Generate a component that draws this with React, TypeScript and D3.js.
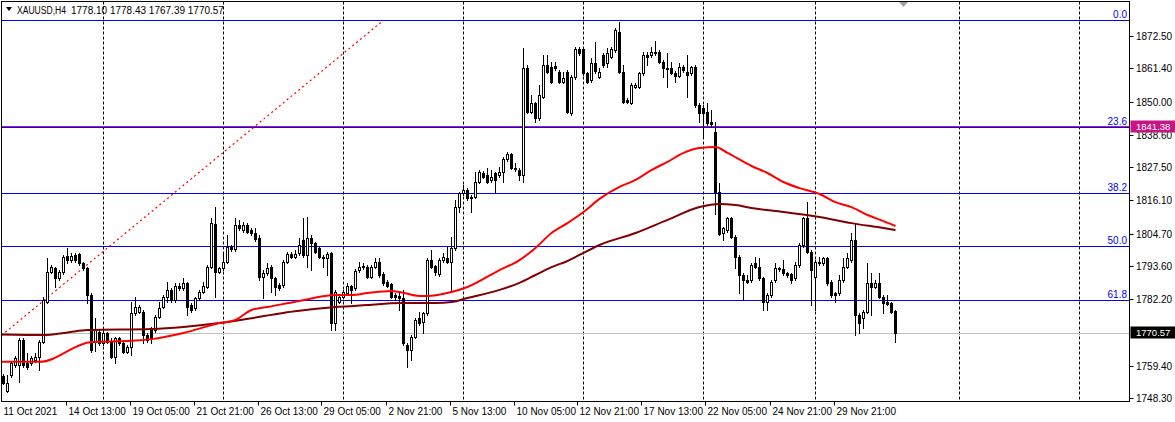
import React, { useEffect, useRef } from 'react'
import * as d3 from 'd3'

const symbolTitle = 'XAUUSD,H4'
const lastQuote = [1778.10, 1778.43, 1767.39, 1770.57]

// H4 bars: [open, high, low, close]
const ohlc: number[][] = [
  [1755.8, 1756.5, 1753.1, 1753.3], [1750.8, 1756.2, 1750.5, 1753.3], [1756.2, 1760.8, 1755.6, 1760.2], [1759.6, 1762.7, 1759.0, 1761.9],
  [1759.6, 1768.8, 1753.9, 1768.2], [1768.2, 1768.8, 1759.0, 1759.6], [1760.2, 1763.6, 1758.4, 1759.0], [1760.2, 1762.7, 1759.6, 1761.9],
  [1761.3, 1763.8, 1760.8, 1762.4], [1762.5, 1768.2, 1757.9, 1767.6], [1767.6, 1783.1, 1767.0, 1781.9], [1781.3, 1796.2, 1780.8, 1791.6],
  [1791.6, 1793.9, 1791.1, 1793.4], [1792.8, 1793.4, 1786.5, 1789.3], [1789.3, 1792.2, 1788.8, 1791.6], [1791.6, 1797.3, 1791.0, 1796.8],
  [1797.0, 1799.9, 1794.5, 1795.6], [1795.6, 1797.9, 1795.1, 1797.0], [1797.3, 1797.9, 1795.1, 1795.6], [1797.7, 1798.1, 1793.9, 1794.5],
  [1794.5, 1795.1, 1792.2, 1792.8], [1792.8, 1793.4, 1780.8, 1783.6], [1783.6, 1784.2, 1764.2, 1764.8], [1767.6, 1775.6, 1764.5, 1771.6],
  [1771.1, 1771.6, 1766.5, 1767.0], [1767.0, 1772.2, 1766.5, 1770.5], [1770.5, 1771.1, 1767.0, 1767.6], [1767.6, 1768.8, 1761.9, 1762.5],
  [1762.5, 1769.3, 1760.2, 1768.8], [1768.8, 1769.3, 1766.5, 1767.0], [1767.0, 1767.6, 1763.6, 1764.2], [1764.2, 1766.5, 1763.6, 1765.9],
  [1765.9, 1781.3, 1763.1, 1777.4], [1777.4, 1783.0, 1776.8, 1779.6], [1777.9, 1780.2, 1777.4, 1779.6], [1777.9, 1778.5, 1767.0, 1769.9],
  [1769.9, 1770.5, 1767.6, 1768.2], [1772.2, 1772.8, 1767.0, 1768.8], [1771.6, 1776.8, 1771.1, 1776.2], [1776.2, 1781.3, 1775.6, 1779.1],
  [1779.6, 1783.6, 1779.1, 1783.0], [1783.0, 1788.2, 1781.3, 1785.3], [1785.3, 1785.9, 1781.3, 1781.9], [1781.9, 1787.7, 1781.3, 1786.8],
  [1786.8, 1787.7, 1785.3, 1786.0], [1786.0, 1789.4, 1785.3, 1787.7], [1787.7, 1788.2, 1776.8, 1779.6], [1780.2, 1780.8, 1777.9, 1778.5],
  [1779.1, 1783.0, 1778.5, 1782.5], [1782.5, 1785.3, 1781.9, 1784.7], [1784.7, 1788.2, 1784.2, 1786.8], [1786.5, 1793.9, 1786.0, 1793.4],
  [1793.4, 1809.9, 1792.8, 1808.2], [1808.0, 1813.9, 1783.0, 1791.6], [1791.6, 1793.4, 1791.1, 1792.8], [1792.8, 1797.9, 1792.2, 1795.1],
  [1795.1, 1804.2, 1794.5, 1800.2], [1800.2, 1800.8, 1798.8, 1799.3], [1799.3, 1809.9, 1798.8, 1807.6], [1807.6, 1809.3, 1805.9, 1806.5],
  [1805.9, 1808.7, 1805.3, 1807.6], [1807.6, 1808.2, 1804.8, 1805.3], [1805.9, 1806.5, 1804.2, 1804.8], [1804.8, 1806.5, 1802.3, 1802.7],
  [1803.1, 1804.2, 1788.8, 1789.9], [1789.9, 1792.2, 1782.5, 1791.1], [1791.1, 1794.5, 1790.5, 1792.8], [1793.4, 1793.9, 1784.7, 1789.4],
  [1789.4, 1789.9, 1783.6, 1786.3], [1787.1, 1787.7, 1785.3, 1786.0], [1787.1, 1795.6, 1786.5, 1795.1], [1795.1, 1798.5, 1794.5, 1797.7],
  [1797.7, 1798.5, 1796.2, 1796.8], [1796.8, 1799.1, 1796.2, 1797.7], [1797.9, 1803.1, 1797.3, 1800.8], [1802.5, 1809.9, 1796.8, 1797.3],
  [1797.3, 1810.5, 1793.4, 1803.1], [1803.1, 1804.2, 1792.2, 1801.4], [1801.4, 1801.9, 1797.9, 1798.5], [1799.6, 1800.2, 1796.2, 1796.8],
  [1796.8, 1797.3, 1793.4, 1796.2], [1796.2, 1798.5, 1790.5, 1797.7], [1797.9, 1798.5, 1771.6, 1773.9], [1773.9, 1785.3, 1771.6, 1784.7],
  [1781.3, 1783.6, 1780.8, 1783.0], [1783.0, 1785.3, 1782.5, 1784.7], [1784.3, 1787.7, 1783.9, 1786.8], [1786.8, 1787.1, 1780.8, 1785.3],
  [1785.9, 1792.4, 1785.3, 1792.0], [1792.2, 1795.1, 1791.6, 1793.4], [1793.6, 1794.5, 1792.4, 1793.1], [1793.4, 1793.9, 1789.4, 1789.9],
  [1789.9, 1793.9, 1789.4, 1793.4], [1793.4, 1796.2, 1792.8, 1795.1], [1795.1, 1796.2, 1789.9, 1790.5], [1790.8, 1791.6, 1787.1, 1787.7],
  [1788.2, 1788.8, 1786.3, 1786.8], [1787.4, 1787.9, 1782.5, 1783.0], [1783.6, 1784.2, 1781.9, 1783.0], [1783.3, 1784.2, 1778.5, 1782.5],
  [1782.5, 1785.3, 1766.5, 1767.0], [1766.5, 1767.0, 1759.0, 1764.8], [1764.8, 1769.9, 1761.3, 1769.1], [1769.1, 1775.6, 1768.8, 1775.1],
  [1775.6, 1777.9, 1773.3, 1773.9], [1774.5, 1777.9, 1770.5, 1777.4], [1777.4, 1796.2, 1776.8, 1795.6], [1795.6, 1799.1, 1792.8, 1793.4],
  [1793.6, 1793.9, 1790.5, 1791.6], [1790.8, 1796.2, 1790.1, 1795.6], [1795.6, 1797.9, 1795.1, 1796.8], [1796.2, 1800.2, 1794.5, 1795.1],
  [1795.1, 1803.7, 1785.3, 1799.6], [1799.6, 1816.2, 1799.1, 1813.9], [1813.9, 1819.1, 1812.2, 1818.5], [1818.5, 1821.4, 1817.9, 1819.7],
  [1819.7, 1820.2, 1816.2, 1816.8], [1817.4, 1817.9, 1812.2, 1816.8], [1817.4, 1826.0, 1816.8, 1822.5], [1822.5, 1826.5, 1822.0, 1826.0],
  [1825.6, 1826.3, 1823.7, 1824.2], [1824.8, 1827.1, 1822.0, 1822.5], [1823.1, 1826.5, 1822.5, 1824.2], [1825.4, 1826.0, 1819.1, 1823.1],
  [1824.8, 1827.7, 1824.2, 1826.0], [1826.0, 1831.1, 1822.5, 1830.2], [1830.2, 1832.8, 1829.7, 1832.0], [1832.0, 1832.5, 1826.8, 1827.1],
  [1827.1, 1828.8, 1826.3, 1826.8], [1826.5, 1827.1, 1823.1, 1824.8], [1824.8, 1868.3, 1822.5, 1861.4], [1861.4, 1862.5, 1846.0, 1846.5],
  [1846.5, 1852.3, 1846.0, 1849.4], [1849.4, 1850.0, 1843.1, 1844.2], [1844.2, 1855.7, 1843.7, 1852.3], [1851.7, 1866.0, 1851.1, 1862.5],
  [1862.5, 1866.0, 1859.7, 1860.3], [1862.0, 1863.7, 1856.3, 1856.8], [1862.2, 1863.7, 1860.8, 1861.4], [1860.3, 1860.8, 1856.3, 1856.8],
  [1856.8, 1860.3, 1856.3, 1858.0], [1860.3, 1860.8, 1846.0, 1846.5], [1846.2, 1859.1, 1845.4, 1858.3], [1858.3, 1868.8, 1857.9, 1867.9],
  [1867.9, 1868.6, 1866.0, 1866.5], [1867.9, 1868.8, 1859.1, 1859.7], [1859.7, 1860.3, 1856.3, 1856.8], [1857.4, 1864.8, 1856.8, 1863.1],
  [1863.1, 1870.6, 1859.9, 1860.6], [1858.5, 1861.4, 1858.0, 1860.3], [1866.0, 1866.5, 1862.0, 1862.5], [1863.1, 1868.3, 1862.0, 1866.5],
  [1865.4, 1868.8, 1864.8, 1867.9], [1867.7, 1875.1, 1867.1, 1874.6], [1874.0, 1877.4, 1859.7, 1860.3], [1860.3, 1862.5, 1849.6, 1850.0],
  [1850.5, 1851.1, 1849.4, 1850.0], [1849.4, 1856.3, 1849.2, 1855.7], [1854.9, 1856.3, 1854.5, 1855.7], [1854.9, 1860.3, 1854.5, 1859.7],
  [1859.7, 1867.1, 1859.1, 1866.0], [1866.0, 1867.1, 1862.5, 1865.4], [1866.0, 1868.8, 1865.4, 1867.1], [1867.1, 1870.9, 1866.0, 1866.5],
  [1867.1, 1867.7, 1863.1, 1863.7], [1863.7, 1864.3, 1858.5, 1861.4], [1861.4, 1866.8, 1855.1, 1861.2], [1861.4, 1863.7, 1859.5, 1859.9],
  [1859.9, 1860.6, 1856.8, 1858.8], [1858.8, 1863.1, 1858.3, 1861.7], [1861.7, 1862.5, 1860.3, 1860.8], [1860.3, 1866.0, 1851.7, 1859.1],
  [1859.7, 1862.2, 1859.1, 1861.7], [1861.7, 1862.5, 1848.3, 1848.8], [1848.8, 1849.4, 1843.1, 1846.2], [1847.7, 1848.8, 1838.0, 1846.0],
  [1846.5, 1849.4, 1842.0, 1842.5], [1843.1, 1847.1, 1841.4, 1842.3], [1839.7, 1843.1, 1811.6, 1819.1], [1819.1, 1822.0, 1804.2, 1804.6],
  [1804.8, 1807.0, 1802.5, 1806.5], [1805.9, 1810.5, 1805.3, 1809.9], [1809.9, 1810.5, 1803.1, 1803.7], [1803.7, 1804.2, 1792.8, 1796.8],
  [1796.8, 1797.3, 1784.2, 1790.5], [1790.5, 1791.1, 1781.9, 1788.8], [1788.8, 1790.5, 1787.7, 1788.2], [1788.8, 1794.5, 1788.2, 1793.9],
  [1794.5, 1796.8, 1792.8, 1793.4], [1793.4, 1796.2, 1788.8, 1789.4], [1789.4, 1789.9, 1778.5, 1781.3], [1781.3, 1784.2, 1778.5, 1783.6],
  [1783.6, 1788.8, 1783.0, 1788.2], [1788.8, 1794.5, 1788.2, 1792.8], [1792.8, 1793.4, 1792.0, 1792.4], [1792.4, 1795.6, 1790.5, 1791.1],
  [1791.1, 1791.6, 1789.9, 1790.5], [1790.7, 1791.3, 1787.7, 1788.8], [1789.4, 1795.1, 1788.8, 1793.9], [1793.9, 1801.4, 1793.4, 1800.8],
  [1800.8, 1810.5, 1800.2, 1809.9], [1809.9, 1815.7, 1797.9, 1798.5], [1798.5, 1799.1, 1780.2, 1792.2], [1789.9, 1795.6, 1778.5, 1795.1],
  [1795.1, 1796.8, 1793.9, 1794.5], [1794.5, 1796.8, 1793.9, 1796.2], [1796.2, 1796.8, 1787.1, 1787.7], [1788.2, 1788.8, 1783.0, 1783.6],
  [1784.2, 1784.7, 1781.3, 1783.6], [1784.2, 1790.5, 1783.6, 1788.8], [1788.8, 1796.2, 1788.2, 1793.4], [1793.4, 1797.9, 1792.8, 1796.2],
  [1795.6, 1804.8, 1795.1, 1802.5], [1802.5, 1808.2, 1769.9, 1776.8], [1776.8, 1777.4, 1770.5, 1773.9], [1775.6, 1778.5, 1772.2, 1777.9],
  [1777.9, 1794.5, 1777.4, 1787.9], [1787.9, 1791.1, 1776.8, 1786.5], [1786.5, 1788.8, 1786.0, 1787.9], [1787.9, 1791.1, 1782.5, 1783.0],
  [1783.0, 1783.6, 1777.4, 1780.8], [1781.3, 1783.6, 1780.2, 1780.5], [1780.8, 1781.3, 1777.4, 1777.9], [1778.10, 1778.43, 1767.39, 1770.57]
]

// time axis labels and the bar they sit on
const dateLabels = ['11 Oct 2021', '14 Oct 13:00', '19 Oct 05:00', '21 Oct 21:00', '26 Oct 13:00', '29 Oct 05:00', '2 Nov 21:00',
  '5 Nov 13:00', '10 Nov 05:00', '12 Nov 21:00', '17 Nov 13:00', '22 Nov 05:00', '24 Nov 21:00', '29 Nov 21:00']
const dateLabelBars = [0, 16, 32, 48, 64, 80, 96, 112, 128, 144, 160, 176, 192, 208]

// vertical grid (week starts, last two in the empty shift area)
const gridBars = [25, 55, 85, 115, 145, 175, 203, 239, 269]

const priceTicks = [1872.5, 1861.4, 1850.0, 1838.6, 1827.5, 1816.1, 1804.7, 1793.6, 1782.2, 1759.4, 1748.3]

// fibonacci retracement
const fibRatios = [0, 23.6, 38.2, 50, 61.8]
const fibHigh = 1877.9
const fibLow = 1722.8
const fibAnchorBars = [-42, 95]

const hLinePrice = 1841.38
const bidPrice = 1770.57

// moving averages read at sample bars
const maFastBars = [-1, 9, 22, 32, 37, 45, 54, 58, 62, 66, 74, 83, 87, 91, 97, 99, 104, 106, 112, 116, 124, 129, 133, 137, 141,
  145, 149, 154, 158, 162, 166, 170, 174, 178, 181, 187, 191, 195, 199, 204, 208, 212, 216, 220, 223]
const maFastValues = [1760.7, 1760.7, 1767.5, 1767.9, 1768.5, 1770.6, 1774.0, 1775.1, 1778.5, 1779.5, 1781.6, 1783.6, 1783.6,
  1784.3, 1785.0, 1784.7, 1783.3, 1783.3, 1784.7, 1786.4, 1792.2, 1795.6, 1799.8, 1804.9, 1808.3, 1812.1, 1816.6, 1820.7, 1823.1,
  1826.5, 1829.3, 1832.4, 1834.1, 1834.4, 1832.4, 1827.9, 1825.5, 1822.4, 1820.3, 1818.3, 1815.5, 1813.8, 1811.1, 1809.0, 1807.3]
const maSlowBars = [-1, 10, 16, 21, 37, 45, 54, 62, 70, 74, 83, 91, 99, 108, 112, 116, 124, 129, 133, 137, 141, 145, 149, 158,
  166, 174, 179, 183, 187, 195, 204, 212, 220, 223]
const maSlowValues = [1770.1, 1769.9, 1770.8, 1771.6, 1772.0, 1772.7, 1774.0, 1775.7, 1777.5, 1778.2, 1779.5, 1780.2, 1780.9,
  1780.9, 1781.2, 1782.6, 1785.4, 1787.8, 1790.5, 1793.2, 1795.3, 1798.1, 1800.8, 1804.9, 1809.4, 1813.8, 1814.9, 1814.5, 1813.5,
  1812.1, 1810.4, 1808.3, 1806.6, 1805.9]

const FONT = '"Liberation Sans", Arial, sans-serif'

export default function App() {
  const svgRef = useRef<SVGSVGElement | null>(null)

  useEffect(() => {
    if (!svgRef.current) return
    const width = 1175
    const height = 422
    const left = 1.5, top = 1.5, right = 1129.5, bottom = 401.5

    const svg = d3.select(svgRef.current)
    svg.selectAll('*').remove()
    svg.attr('width', width).attr('height', height)

    svg.append('rect').attr('width', width).attr('height', height).attr('fill', '#ffffff')

    // bar index -> x, price -> y
    const x = d3.scaleLinear().domain([0, ohlc.length - 1]).range([3.5, 3.5 + 4 * (ohlc.length - 1)])
    const y = d3.scaleLinear().domain([1748.3, 1872.5]).range([398, 36])
    const snap = (v: number) => Math.round(v) + 0.5

    svg.append('clipPath').attr('id', 'plot-clip')
      .append('rect').attr('x', left).attr('y', top).attr('width', right - left).attr('height', bottom - top)
    const plot = svg.append('g').attr('clip-path', 'url(#plot-clip)')

    // vertical dashed grid
    plot.selectAll('line.grid')
      .data(gridBars)
      .enter()
      .append('line')
      .attr('x1', d => x(d)).attr('x2', d => x(d))
      .attr('y1', top).attr('y2', bottom)
      .attr('stroke', '#000').attr('stroke-dasharray', '3,2')

    // fibo levels
    const fibPrice = (r: number) => fibHigh - (r / 100) * (fibHigh - fibLow)
    plot.selectAll('line.fib')
      .data(fibRatios)
      .enter()
      .append('line')
      .attr('x1', left).attr('x2', right)
      .attr('y1', d => snap(y(fibPrice(d)))).attr('y2', d => snap(y(fibPrice(d))))
      .attr('stroke', '#0000ff')

    svg.selectAll('text.fib')
      .data(fibRatios)
      .enter()
      .append('text')
      .attr('x', 1127)
      .attr('y', d => snap(y(fibPrice(d))) - 2.5)
      .attr('text-anchor', 'end')
      .attr('fill', '#0000ff')
      .style('font', `10px ${FONT}`)
      .text(d => d.toFixed(1))

    // fibo trend line (dotted red)
    plot.append('line')
      .attr('x1', x(fibAnchorBars[0])).attr('y1', y(fibLow))
      .attr('x2', x(fibAnchorBars[1])).attr('y2', y(fibHigh))
      .attr('stroke', '#ff0000').attr('stroke-width', 1.2).attr('stroke-dasharray', '2,3')

    // horizontal line and bid line
    plot.append('line')
      .attr('x1', left).attr('x2', right)
      .attr('y1', snap(y(hLinePrice)) - 1).attr('y2', snap(y(hLinePrice)) - 1)
      .attr('stroke', '#c71585')
    plot.append('line')
      .attr('x1', left).attr('x2', right)
      .attr('y1', snap(y(bidPrice))).attr('y2', snap(y(bidPrice)))
      .attr('stroke', '#c0c0c0')

    // candles
    const bars = plot.append('g')
    ohlc.forEach(([o, h, l, c], i) => {
      const cx = x(i)
      bars.append('line')
        .attr('x1', cx).attr('x2', cx)
        .attr('y1', Math.round(y(h))).attr('y2', Math.round(y(l)) + 1)
        .attr('stroke', '#000')
      const t = snap(y(Math.max(o, c)))
      const b = snap(y(Math.min(o, c)))
      bars.append('rect')
        .attr('x', cx - 1).attr('y', t)
        .attr('width', 2).attr('height', Math.max(b - t, 0))
        .attr('fill', c >= o ? '#ffffff' : '#000000')
        .attr('stroke', '#000')
    })

    // moving averages
    const line = d3.line<number>().curve(d3.curveMonotoneX)
    plot.append('path')
      .attr('d', line.x((d, i) => x(maSlowBars[i])).y(d => y(d))(maSlowValues))
      .attr('fill', 'none').attr('stroke', '#800000').attr('stroke-width', 2)
    plot.append('path')
      .attr('d', line.x((d, i) => x(maFastBars[i])).y(d => y(d))(maFastValues))
      .attr('fill', 'none').attr('stroke', '#ff0000').attr('stroke-width', 2)

    // frame
    svg.append('rect')
      .attr('x', left).attr('y', top).attr('width', right - left).attr('height', bottom - top)
      .attr('fill', 'none').attr('stroke', '#000')

    // price axis
    const yAxis = svg.append('g')
    priceTicks.forEach(p => {
      const py = snap(y(p))
      yAxis.append('line').attr('x1', right).attr('x2', right + 4).attr('y1', py).attr('y2', py).attr('stroke', '#000')
      yAxis.append('text').attr('x', 1136).attr('y', py + 3.5)
        .style('font', `10px ${FONT}`).attr('fill', '#000').text(p.toFixed(2))
    })

    const priceTag = (p: number, bg: string) => {
      const py = snap(y(p))
      yAxis.append('rect').attr('x', right + 1).attr('y', py - 7).attr('width', 45).attr('height', 12).attr('fill', bg)
      yAxis.append('text').attr('x', 1136).attr('y', py + 2.5)
        .style('font', `9.5px ${FONT}`).attr('fill', '#fff').text(p.toFixed(2))
    }
    priceTag(hLinePrice, '#c71585')
    priceTag(bidPrice, '#000000')

    // time axis
    const xAxis = svg.append('g')
    dateLabels.forEach((label, k) => {
      const bx = k === 0 ? left : snap(x(dateLabelBars[k]) - 2)
      if (k > 0) xAxis.append('line').attr('x1', bx).attr('x2', bx).attr('y1', bottom).attr('y2', bottom + 4).attr('stroke', '#000')
      xAxis.append('text').attr('x', bx + 2).attr('y', 415)
        .style('font', `10px ${FONT}`).attr('fill', '#000').text(label)
    })

    // header
    svg.append('path').attr('d', 'M6,7 L12,7 L9,11 Z').attr('fill', '#000')
    svg.append('text').attr('x', 17).attr('y', 14)
      .attr('textLength', 49).attr('lengthAdjust', 'spacingAndGlyphs')
      .style('font', `10px ${FONT}`).attr('fill', '#000')
      .text(symbolTitle)
    svg.append('text').attr('x', 71).attr('y', 14)
      .style('font', `10px ${FONT}`).attr('fill', '#000')
      .text(lastQuote.map(v => v.toFixed(2)).join(' '))

    // chart shift marker
    svg.append('path').attr('d', 'M899,2 L908,2 L903.5,7 Z').attr('fill', '#a0a0a0')
  }, [])

  return (
    <div style={{ position: 'absolute', left: 0, top: 0 }}>
      <svg ref={svgRef} style={{ display: 'block' }}></svg>
    </div>
  )
}
